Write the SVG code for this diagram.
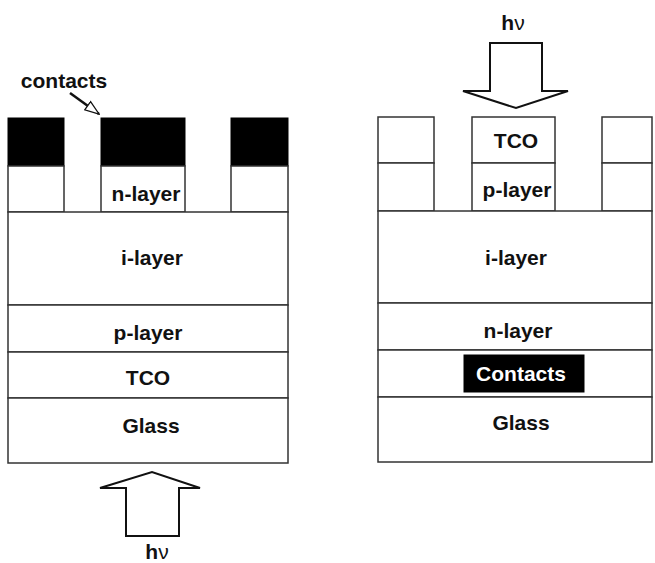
<svg xmlns="http://www.w3.org/2000/svg" width="655" height="563" viewBox="0 0 655 563">
<style>
.box{fill:#fff;stroke:#333;stroke-width:1.5}
.blk{fill:#000;stroke:#000;stroke-width:1}
.t{font-family:"Liberation Sans",Arial,sans-serif;font-weight:bold;font-size:21px;fill:#111;text-anchor:middle}
.w{fill:#fff}
.nu{font-weight:normal}
.arr{fill:#fff;stroke:#111;stroke-width:2;stroke-linejoin:miter}
</style>
<defs>
<marker id="hollow" viewBox="0 0 16 12" refX="15" refY="6" markerWidth="16" markerHeight="12" markerUnits="userSpaceOnUse" orient="auto">
<path d="M1,1 L15,6 L1,11 Z" fill="#fff" stroke="#111" stroke-width="1.3"/>
</marker>
</defs>
<g id="left-cell">
<g id="left-contacts">
<rect class="blk" x="8" y="118" width="56" height="48"/>
<rect class="blk" x="101" y="118" width="84" height="48"/>
<rect class="blk" x="231" y="118" width="57" height="48"/>
</g>
<g id="left-nlayer">
<rect class="box" x="8" y="166" width="56" height="46"/>
<rect class="box" x="101" y="166" width="84" height="46"/>
<rect class="box" x="231" y="166" width="57" height="46"/>
<text class="t" x="146" y="201">n-layer</text>
</g>
<g id="left-ilayer"><rect class="box" x="8" y="212" width="280" height="93"/><text class="t" x="152" y="265">i-layer</text></g>
<g id="left-player"><rect class="box" x="8" y="305" width="280" height="47"/><text class="t" x="148" y="340">p-layer</text></g>
<g id="left-tco"><rect class="box" x="8" y="352" width="280" height="46"/><text class="t" x="148" y="385">TCO</text></g>
<g id="left-glass"><rect class="box" x="8" y="398" width="280" height="65"/><text class="t" x="151" y="433">Glass</text></g>
<g id="left-label"><text class="t" x="64" y="88">contacts</text></g>
<g id="left-light">
<path class="arr" d="M126,536 L126,488 L100,488 L152,472 L200,488 L179,488 L179,536 Z"/>
<text class="t" x="157" y="559">h<tspan class="nu">ν</tspan></text>
</g>
</g>
<g id="right-cell">
<g id="right-tco">
<rect class="box" x="378" y="117" width="56" height="46"/>
<rect class="box" x="472" y="117" width="83" height="46"/>
<rect class="box" x="602" y="117" width="50" height="46"/>
<text class="t" x="516" y="148">TCO</text>
</g>
<g id="right-player">
<rect class="box" x="378" y="163" width="56" height="48"/>
<rect class="box" x="472" y="163" width="83" height="48"/>
<rect class="box" x="602" y="163" width="50" height="48"/>
<text class="t" x="517" y="197">p-layer</text>
</g>
<g id="right-ilayer"><rect class="box" x="378" y="211" width="274" height="92"/><text class="t" x="516" y="265">i-layer</text></g>
<g id="right-nlayer"><rect class="box" x="378" y="303" width="274" height="47"/><text class="t" x="518" y="338">n-layer</text></g>
<g id="right-contacts"><rect class="box" x="378" y="350" width="274" height="47"/><rect class="blk" x="464" y="355" width="120" height="37"/><text class="t w" x="521" y="381">Contacts</text></g>
<g id="right-glass"><rect class="box" x="378" y="397" width="274" height="65"/><text class="t" x="521" y="430">Glass</text></g>
<g id="right-light">
<path class="arr" d="M490,43 L542,43 L542,91 L568,91 L516,108 L463,91 L490,91 Z"/>
<text class="t" x="513" y="30">h<tspan class="nu">ν</tspan></text>
</g>
</g>
<g id="connectors">
<line x1="70" y1="93" x2="99" y2="114" stroke="#111" stroke-width="2.5" marker-end="url(#hollow)"/>
</g>
</svg>
